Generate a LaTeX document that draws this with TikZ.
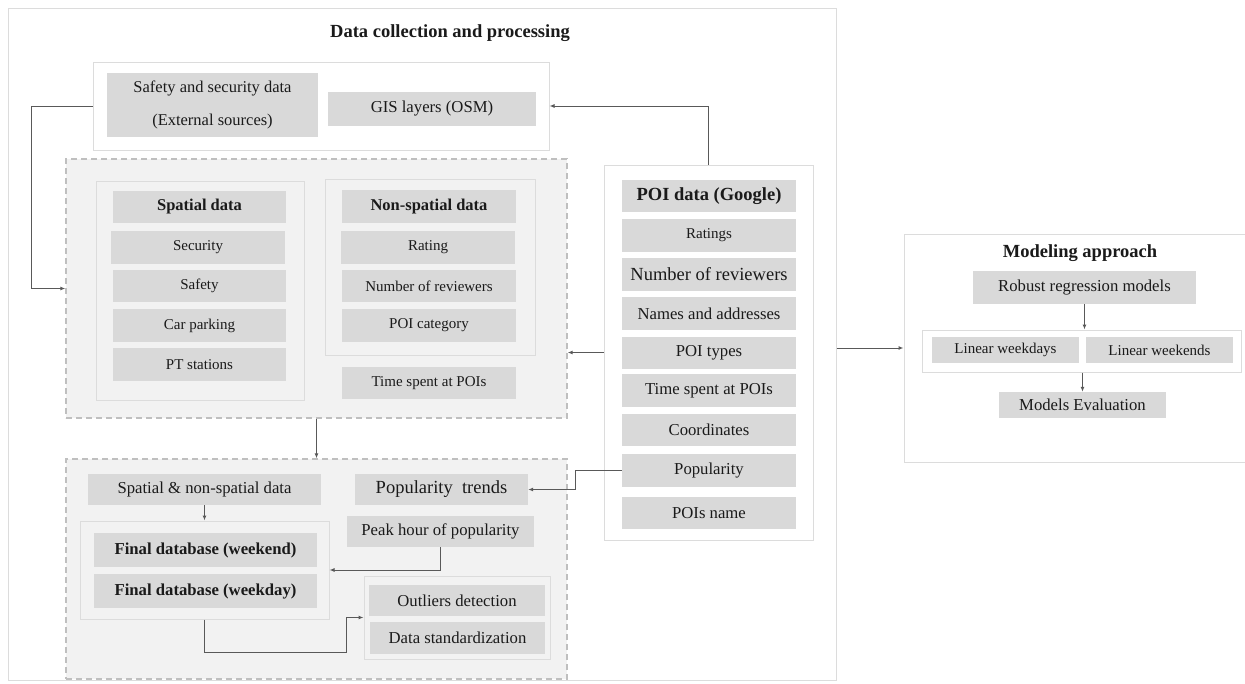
\documentclass[tikz,border=0pt]{standalone}
\usepackage{fontspec}
\setmainfont{Liberation Serif}
\usetikzlibrary{arrows.meta,calc}
\definecolor{boxgray}{HTML}{D9D9D9}
\definecolor{framegray}{HTML}{DCDCDC}
\definecolor{dashfill}{HTML}{F2F2F2}
\definecolor{dashline}{HTML}{BFBFBF}
\definecolor{linegray}{HTML}{595959}
\definecolor{txt}{HTML}{1A1A1A}
\begin{document}
\begin{tikzpicture}[x=1pt,y=-1pt,
  sz/.style 2 args={minimum width=#1,minimum height=#2},
  gbox/.style={fill=boxgray, draw=none, inner sep=0pt, align=center, text=txt, font=\fontsize{15}{18}\selectfont},
  gboxm/.style={gbox, font=\fontsize{16.7}{20}\selectfont},
  gboxl/.style={gbox, font=\fontsize{18.5}{22}\selectfont},
  hbox/.style={gbox, font=\bfseries\fontsize{16.5}{20}\selectfont},
  frame/.style={draw=framegray, fill=white, line width=1pt, inner sep=0pt},
  iframe/.style={draw=framegray, fill=dashfill, line width=1pt, inner sep=0pt},
  dbox/.style={draw=dashline, fill=dashfill, line width=1.3pt, dash pattern=on 6pt off 4pt, inner sep=0pt},
  ttl/.style={text=txt, font=\bfseries\fontsize{18.5}{22}\selectfont, inner sep=0pt},
  conn/.style={draw=linegray, line width=1pt, -{Latex[length=5pt,width=4pt]}}
]
\useasboundingbox (0,0) rectangle (1245,683);
\clip (0,0) rectangle (1245,683);
\fill[white] (0,0) rectangle (1245,683);

% outer frame
\node[frame, sz={828pt}{672pt}] (outer) at (422,344) {};
\node[ttl] (title) at (450,33) {Data collection and processing};

% top sources box
\node[frame, sz={456pt}{88pt}] (top) at (321,106) {};
\node[gbox, sz={211pt}{64pt}, font=\fontsize{16.5}{33}\selectfont] (ext) at (212.5,105) {Safety and security data\\(External sources)};
\node[gboxm, sz={208pt}{34pt}] (gis) at (432,109) {GIS layers (OSM)};

% processing dashed box 1
\node[dbox, sz={501pt}{259pt}] (proc) at (316.5,288.5) {};
\node[iframe, sz={208pt}{219pt}] (spf) at (200,290.5) {};
\node[hbox, sz={173pt}{32pt}] (sph) at (199.5,207) {Spatial data};
\node[gbox, sz={174pt}{33pt}] (sec) at (198,247.5) {Security};
\node[gbox, sz={173pt}{32pt}] (saf) at (199.5,286) {Safety};
\node[gbox, sz={173pt}{33pt}] (car) at (199.5,325.5) {Car parking};
\node[gbox, sz={173pt}{33pt}] (pts) at (199.5,364.5) {PT stations};

\node[iframe, sz={210pt}{176pt}] (nsf) at (430,267) {};
\node[hbox, sz={174pt}{33pt}] (nsh) at (429,206.5) {Non-spatial data};
\node[gbox, sz={174pt}{33pt}] (rat) at (428,247.5) {Rating};
\node[gbox, sz={174pt}{32pt}] (nrev) at (429,286) {Number of reviewers};
\node[gbox, sz={174pt}{33pt}] (pcat) at (429,325.5) {POI category};
\node[gbox, sz={174pt}{32pt}] (tsp) at (429,383) {Time spent at POIs};

% POI column
\node[frame, sz={209pt}{375pt}] (poi) at (708.5,352.5) {};
\node[gbox, sz={174pt}{32pt}, font=\bfseries\fontsize{18.5}{22}\selectfont] (poih) at (709,196) {POI data (Google)};
\node[gbox, sz={174pt}{33pt}] (prat) at (709,235.5) {Ratings};
\node[gboxl, sz={174pt}{33pt}] (pnum) at (709,274.5) {Number of reviewers};
\node[gboxm, sz={174pt}{33pt}] (pnam) at (709,313.5) {Names and addresses};
\node[gboxm, sz={174pt}{32pt}] (ptyp) at (709,353) {POI types};
\node[gboxm, sz={174pt}{33pt}] (ptim) at (709,390.5) {Time spent at POIs};
\node[gboxm, sz={174pt}{32pt}] (pcoo) at (709,430) {Coordinates};
\node[gboxm, sz={174pt}{33pt}] (ppop) at (709,470.5) {Popularity};
\node[gboxm, sz={174pt}{32pt}] (pnm) at (709,513) {POIs name};

% processing dashed box 2
\node[dbox, sz={501pt}{220pt}] (proc2) at (316.5,569) {};
\node[gboxm, sz={233pt}{31pt}] (spn) at (204.5,489.5) {Spatial \& non-spatial data};
\node[gboxl, sz={173pt}{31pt}] (ptr) at (441.5,489.5) {Popularity\ \ trends};
\node[gboxm, sz={187pt}{31pt}] (peak) at (440.5,531.5) {Peak hour of popularity};
\node[iframe, sz={249pt}{98pt}] (finfr) at (204.5,570) {};
\node[gbox, sz={223pt}{34pt}, font=\bfseries\fontsize{16.7}{20}\selectfont] (fwe) at (205.5,550) {Final database (weekend)};
\node[gbox, sz={223pt}{34pt}, font=\bfseries\fontsize{16.7}{20}\selectfont] (fwd) at (205.5,591) {Final database (weekday)};
\node[iframe, sz={186pt}{83pt}] (outfr) at (457,617.5) {};
\node[gboxm, sz={176pt}{31pt}] (outl) at (457,600.5) {Outliers detection};
\node[gboxm, sz={175pt}{32pt}] (std) at (457.5,638) {Data standardization};

% modeling approach
\node[frame, sz={356pt}{228pt}] (model) at (1082,348) {};
\node[ttl] (mttl) at (1080,253) {Modeling approach};
\node[gboxm, sz={223pt}{33pt}] (rob) at (1084.5,287.5) {Robust regression models};
\node[frame, sz={319pt}{42pt}] (mfr) at (1081.5,351) {};
\node[gbox, sz={147pt}{26pt}] (lwd) at (1005.5,350) {Linear weekdays};
\node[gbox, sz={147pt}{26pt}] (lwe) at (1159.5,350) {Linear weekends};
\node[gboxm, sz={167pt}{26pt}] (eval) at (1082.5,405) {Models Evaluation};

% connectors
\draw[conn] (top.west) -- ++(-61,0) |- (proc.west);
\draw[conn] (poi.north) |- (top.east);
\draw[conn] (poi.west) -- (poi.west -| proc.east);
\draw[conn] (model.west -| outer.east) -- (model.west);
\draw[conn] (ppop.west) -- ++(-46,0) |- (ptr.east);
\draw[conn] (proc.south) -- (proc2.north);
\draw[conn] (spn.south) -- (finfr.north);
\draw[conn] (peak.south) |- (finfr.east);
\draw[conn] (finfr.south) -- ++(0,33) -| ([xshift=-17pt]outfr.west) -- (outfr.west);
\draw[conn] (rob.south) -- (rob.south |- mfr.north);
\draw[conn] (eval.north |- mfr.south) -- (eval.north);
\end{tikzpicture}
\end{document}
